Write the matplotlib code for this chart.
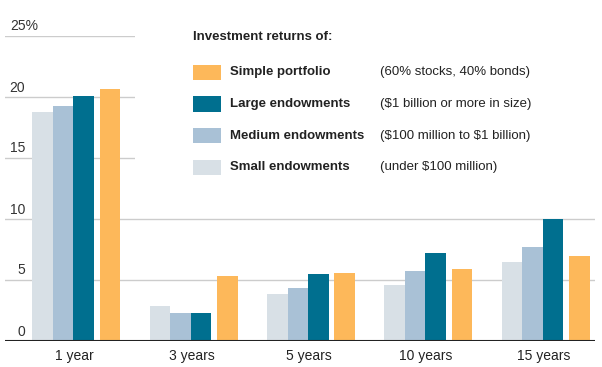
import matplotlib.pyplot as plt
from matplotlib.patches import Rectangle
import numpy as np

plt.rcParams['font.family'] = ['Liberation Sans', 'DejaVu Sans']

periods = ['1 year', '3 years', '5 years', '10 years', '15 years']
small = [18.75, 2.9, 3.85, 4.6, 6.5]
medium = [19.25, 2.3, 4.35, 5.7, 7.7]
large = [20.05, 2.3, 5.5, 7.2, 9.97]
simple = [20.65, 5.3, 5.55, 5.9, 7.0]

names = ['Simple portfolio', 'Large endowments', 'Medium endowments', 'Small endowments']
notes = ['(60% stocks, 40% bonds)', r'(\$1 billion or more in size)',
         r'(\$100 million to \$1 billion)', r'(under \$100 million)']
yticks = [0, 5, 10, 15, 20, 25]

c_small = '#d8e0e6'
c_med = '#a9c1d6'
c_large = '#006f8f'
c_simple = '#fdb85a'
W, H = 602, 367

fig = plt.figure(figsize=(W / 100, H / 100), dpi=100)
ax = fig.add_axes([5 / W, 1 - 341 / H, (595 - 5) / W, (341 - 36) / H])

x = np.arange(len(periods))
bw = 0.175
gap = 0.05
start = x - 0.376
ax.bar(start + bw * 0.5, small, bw, color=c_small, zorder=2)
ax.bar(start + bw * 1.5, medium, bw, color=c_med, zorder=2)
ax.bar(start + bw * 2.5, large, bw, color=c_large, zorder=2)
ax.bar(start + bw * 3.5 + gap, simple, bw, color=c_simple, zorder=2)

ax.set_xlim(-0.609, 4.42)
ax.set_ylim(0, 25)
for v in yticks[1:]:
    ax.axhline(v, color='#cccccc', lw=1, zorder=1)
ax.axhline(0, color='#222222', lw=1.5, zorder=3)

for s in ax.spines.values():
    s.set_visible(False)
ax.set_yticks([])
ax.set_xticks(x - 0.02)
ax.set_xticklabels(periods, fontsize=10, color='#222222')
ax.tick_params(axis='x', length=0, pad=6)

# y labels sit above the gridlines
for v in yticks:
    lab = '25%' if v == 25 else str(v)
    fig.text(25 / W if v != 25 else 10 / W, 1 - (341 - v * 12.2 - 2.5) / H, lab,
             ha='right' if v != 25 else 'left', va='bottom', fontsize=10, color='#333333')

# white block behind legend hides gridlines
fig.patches.append(Rectangle((135 / W, 1 - 195 / H), 1, 1, transform=fig.transFigure,
                             facecolor='white', edgecolor='none', zorder=1))

fig.text(193 / W, 1 - 37 / H, 'Investment returns of:', fontsize=9.5,
         fontweight='bold', va='center', color='#222222', zorder=5)
cols = [c_simple, c_large, c_med, c_small]
rows = [72.5, 104, 135.7, 167.3]
for nm, nt, c, ry in zip(names, notes, cols, rows):
    fig.patches.append(Rectangle((193 / W, 1 - (ry + 7.5) / H), 28 / W, 15 / H,
                                 transform=fig.transFigure, facecolor=c,
                                 edgecolor='none', zorder=5))
    fig.text(230 / W, 1 - ry / H, nm, fontsize=9.5, fontweight='bold',
             va='center', color='#222222', zorder=5)
    fig.text(380 / W, 1 - ry / H, nt, fontsize=9.5, va='center',
             color='#222222', zorder=5)

fig.savefig('out.png', dpi=100)
